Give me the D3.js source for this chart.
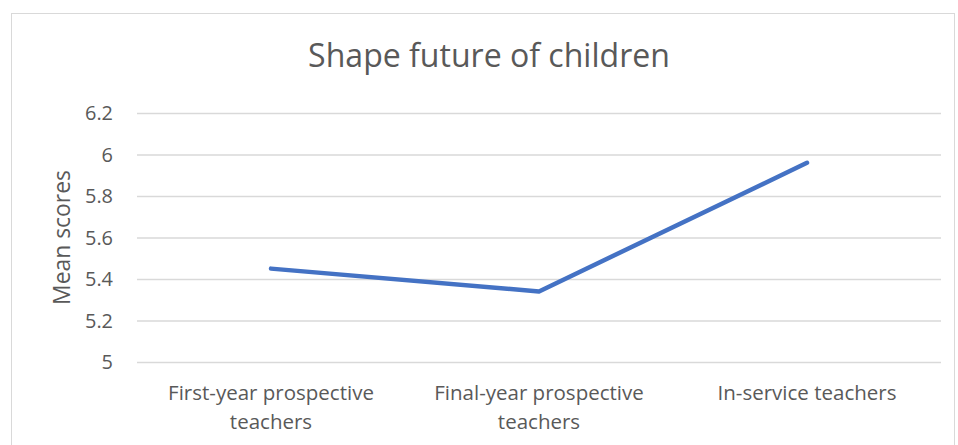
<!DOCTYPE html>
<html>
<head>
<meta charset="utf-8">
<script src="https://cdn.jsdelivr.net/npm/d3@7"></script>
<style>
  html, body { margin: 0; padding: 0; background: #fff; }
  svg { display: block; font-family: "Open Sans", Lato, sans-serif; }
</style>
</head>
<body>
<svg id="chart" width="958" height="445"></svg>
<script>
const categories = [["First-year prospective", "teachers"], ["Final-year prospective", "teachers"], ["In-service teachers"]];
const values = [5.45, 5.34, 5.96];
const yTicks = [5, 5.2, 5.4, 5.6, 5.8, 6, 6.2];
const yTickLabels = ["5", "5.2", "5.4", "5.6", "5.8", "6", "6.2"];
const title = "Shape future of children";
const yTitle = "Mean scores";

const svg = d3.select("#chart");
const plot = { left: 137, right: 941, top: 113, bottom: 362 };
const FONT = "'Open Sans', Lato, sans-serif";

function fit(sel, target) {
  const w = sel.node().getComputedTextLength();
  const fs = parseFloat(sel.style("font-size"));
  return fs * target / w;
}

svg.append("rect").attr("x", 11.5).attr("y", 13.5).attr("width", 943).attr("height", 460)
  .attr("fill", "#fff").attr("stroke", "#d9d9d9").attr("stroke-width", 1);

const x = d3.scaleBand().domain(d3.range(categories.length)).range([plot.left, plot.right]);
const y = d3.scaleLinear().domain([5, 6.2]).range([plot.bottom, plot.top]);

// gridlines + tick labels
const yAxis = d3.axisLeft(y).tickValues(yTicks).tickSize(-(plot.right - plot.left))
  .tickFormat((d, i) => yTickLabels[i]).tickPadding(24);
const gy = svg.append("g").attr("transform", `translate(${plot.left},0)`).call(yAxis);
gy.attr("font-family", null).attr("font-size", null);
gy.select(".domain").remove();
gy.selectAll(".tick line").attr("stroke", "#d9d9d9").attr("stroke-width", 1.5);
const tickTexts = gy.selectAll(".tick text").attr("fill", "#595959")
  .style("font-family", FONT).style("font-size", "18px").attr("dy", "0.35em");
const probe = tickTexts.filter((d, i) => yTickLabels[i] === "5.8");
const tfs = fit(probe, 28);
tickTexts.style("font-size", tfs + "px");

// x labels
const gx = svg.append("g");
const catTexts = [];
categories.forEach((lines, i) => {
  const cx = x(i) + x.bandwidth() / 2;
  lines.forEach((ln, j) => {
    const t = gx.append("text").attr("x", cx).attr("y", 400 + j * 28.5)
      .attr("text-anchor", "middle").attr("fill", "#595959")
      .style("font-family", FONT).style("font-size", "18px").text(ln);
    catTexts.push(t);
  });
});
const cfs = fit(catTexts[0], 206);
catTexts.forEach(t => t.style("font-size", cfs + "px"));

// line
const line = d3.line().x((d, i) => x(i) + x.bandwidth() / 2).y(d => y(d));
svg.append("path").datum(values).attr("d", line).attr("fill", "none")
  .attr("stroke", "#4472c4").attr("stroke-width", 4.5)
  .attr("stroke-linecap", "round").attr("stroke-linejoin", "round");

// title
const tt = svg.append("text").attr("x", 489).attr("y", 67).attr("text-anchor", "middle")
  .attr("fill", "#595959").style("font-family", FONT).style("font-size", "28px").text(title);
tt.style("font-size", fit(tt, 362) + "px");

// y title
const yt = svg.append("text").attr("transform", "translate(70,237.5) rotate(-90)")
  .attr("text-anchor", "middle").attr("fill", "#595959")
  .style("font-family", FONT).style("font-size", "20px").text(yTitle);
yt.style("font-size", fit(yt, 135) + "px");
</script>
</body>
</html>
